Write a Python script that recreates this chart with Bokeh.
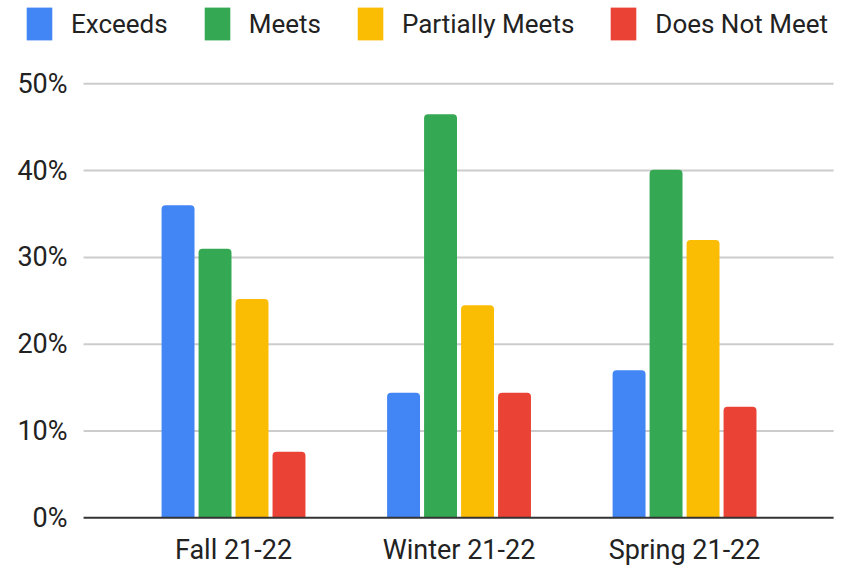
from bokeh.plotting import figure
from bokeh.models import ColumnDataSource, FixedTicker, Legend, LegendItem
from bokeh.core.properties import value
from bokeh.transform import dodge
from bokeh.embed import file_html
from bokeh.resources import INLINE

# ---- data ----
categories = ["Fall 21-22", "Winter 21-22", "Spring 21-22"]
series_names = ["Exceeds", "Meets", "Partially Meets", "Does Not Meet"]
exceeds = [36.0, 14.4, 17.0]
meets = [31.0, 46.5, 40.1]
partially_meets = [25.2, 24.5, 32.0]
does_not_meet = [7.6, 14.4, 12.8]
y_ticks = [0, 10, 20, 30, 40, 50]
y_tick_labels = [f"{t}%" for t in y_ticks]

colors = ["#4285F4", "#34A853", "#FBBC04", "#EA4335"]
FONT = "Roboto"
TXT = "#222222"

xpos = list(range(len(categories)))
source = ColumnDataSource(dict(
    x=xpos, cat=categories,
    s0=exceeds, s1=meets, s2=partially_meets, s3=does_not_meet,
))

# plot-area geometry (data units)
axis_left = -0.665
axis_right = 2.661
W, H = 848, 571
bottom_border = 32
frame_h = H - bottom_border
px_per_unit = 434 / 50
y_start = -2.5
y_end = y_start + frame_h / px_per_unit

p = figure(width=W, height=H, output_backend="svg", toolbar_location=None,
           x_range=(-1.0333, 2.727), y_range=(y_start, y_end),
           min_border_left=0, min_border_right=0, min_border_top=0,
           min_border_bottom=bottom_border)
p.outline_line_color = None
p.background_fill_color = "white"
p.border_fill_color = "white"
p.yaxis.visible = False
p.xgrid.grid_line_color = None
p.ygrid.grid_line_color = None

# gridlines
grid_src = ColumnDataSource(dict(y=y_ticks[1:],
                                 x0=[axis_left] * (len(y_ticks) - 1),
                                 x1=[axis_right] * (len(y_ticks) - 1)))
p.segment(x0="x0", x1="x1", y0="y", y1="y", source=grid_src,
          line_color="#cccccc", line_width=2)

# y tick labels
ylab_src = ColumnDataSource(dict(y=y_ticks, x=[axis_left] * len(y_ticks),
                                 t=y_tick_labels))
p.text(x="x", y="y", text="t", source=ylab_src, x_offset=-16,
       text_align="right", text_baseline="middle",
       text_font=value(FONT), text_font_size=value("27px"), text_color=TXT)

bar_w = 0.146
step = 0.164
offsets = [-1.5 * step, -0.5 * step, 0.5 * step, 1.5 * step]
renderers = []
for i, (name, col) in enumerate(zip(series_names, ["s0", "s1", "s2", "s3"])):
    r = p.vbar(x=dodge("x", offsets[i], range=p.x_range), top=col, bottom=0,
               width=bar_w, source=source, fill_color=colors[i],
               line_color=None, border_radius=(4, 4, 0, 0))
    renderers.append(r)

# baseline
p.segment(x0=[axis_left], x1=[axis_right], y0=[0], y1=[0],
          line_color="#333333", line_width=2)

# x axis (labels only)
p.xaxis.ticker = FixedTicker(ticks=xpos)
p.xaxis.major_label_overrides = {i: c for i, c in zip(xpos, categories)}
p.xaxis.axis_line_color = None
p.xaxis.major_tick_line_color = None
p.xaxis.minor_tick_line_color = None
p.xaxis.major_tick_out = 0
p.xaxis.major_tick_in = 0
p.xaxis.major_label_text_font = FONT
p.xaxis.major_label_text_font_size = "27px"
p.xaxis.major_label_text_color = TXT
p.xaxis.major_label_standoff = -6

legend = Legend(
    items=[LegendItem(label=n, renderers=[r]) for n, r in zip(series_names, renderers)],
    orientation="horizontal", location=(23, 495),
    glyph_width=32, glyph_height=41, label_standoff=16, spacing=33,
    padding=0, margin=0, border_line_color=None, background_fill_alpha=0,
    label_text_font=FONT, label_text_font_size="26px", label_text_color=TXT,
)
p.add_layout(legend, "center")

with open("out.html", "w") as f:
    f.write(file_html(p, INLINE))
